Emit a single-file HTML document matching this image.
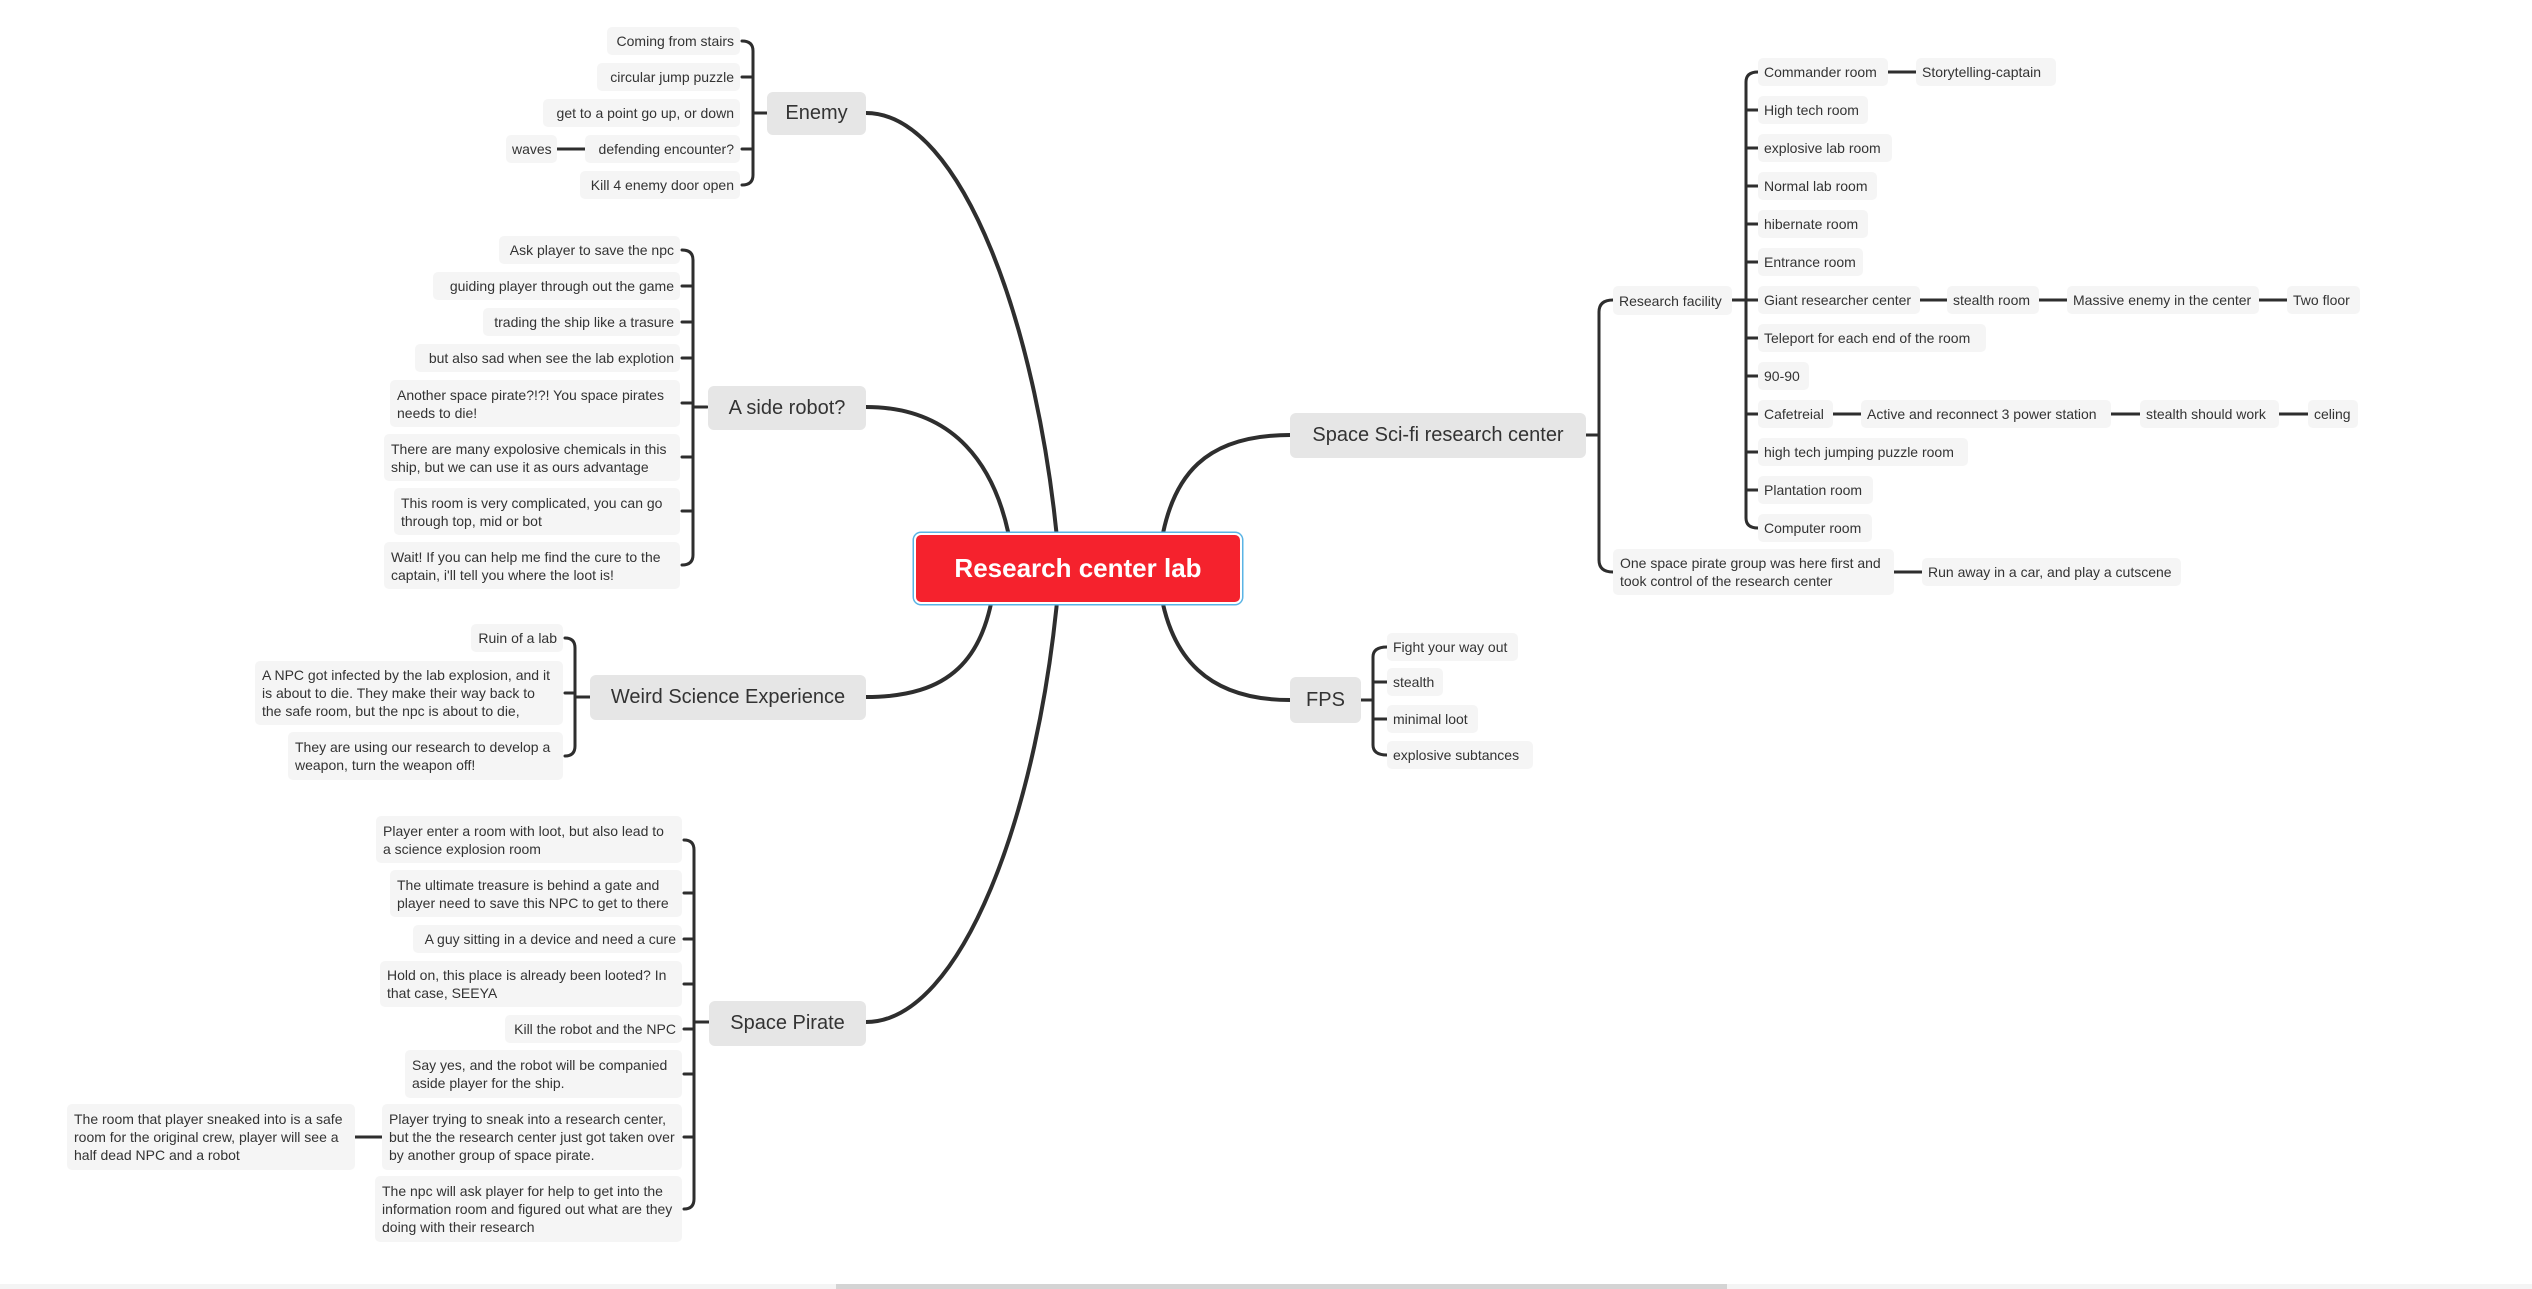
<!DOCTYPE html>
<html><head><meta charset="utf-8">
<style>
html,body{margin:0;padding:0;background:#fff;}
body{width:2532px;height:1289px;position:relative;overflow:hidden;font-family:"Liberation Sans",sans-serif;}
.n{position:absolute;background:#f5f5f5;border-radius:5px;font-size:14px;color:#333;padding:0 7px;line-height:18px;display:flex;align-items:center;box-sizing:border-box;white-space:normal;}
.n[style*="height:28px"],.n[style*="height:29px"]{white-space:nowrap;padding:0 6px;}
.r{justify-content:flex-end;text-align:left;}
.m{position:absolute;background:#e6e6e6;border-radius:6px;font-size:20px;color:#333;display:flex;align-items:center;justify-content:center;box-sizing:border-box;white-space:nowrap;}
.c{position:absolute;left:916px;top:535px;width:324px;height:67px;background:#f5222d;border-radius:5px;color:#fff;font-weight:bold;font-size:26px;display:flex;align-items:center;justify-content:center;box-shadow:0 0 0 2px #fff,0 0 0 3.5px #5ab4e5;}
svg{position:absolute;left:0;top:0;}
</style></head><body>
<svg width="2532" height="1289" fill="none" stroke="#2e2e2e" stroke-linecap="round">
<g stroke-width="4">
<path d="M866,113 C962,113 1040,330 1059,560"/>
<path d="M866,407 C950,407 1000,460 1013,560"/>
<path d="M866,697 C950,697 985,660 995,580"/>
<path d="M866,1022 C962,1022 1040,810 1059,580"/>
<path d="M1290,435 C1210,435 1168,470 1159,560"/>
<path d="M1290,700 C1210,700 1168,660 1159,580"/>
</g>
<g stroke-width="3">
<path d="M767,113 L753,113 M742,41 Q753,41 753,51 L753,175 Q753,185 742,185 M742,77 L753,77 M742,149 L753,149 M557,149 L585,149"/>
<path d="M707,407 L693,407 M682,250 Q693,250 693,260 L693,555 Q693,565 682,565 M682,286 L693,286 M682,322 L693,322 M682,358 L693,358 M682,403 L693,403 M682,457 L693,457 M682,511 L693,511"/>
<path d="M590,697 L575,697 M565,638 Q575,638 575,648 L575,746 Q575,756 565,756 M565,693 L575,693"/>
<path d="M709,1022 L694,1022 M684,840 Q694,840 694,850 L694,1199 Q694,1209 684,1209 M684,893 L694,893 M684,939 L694,939 M684,984 L694,984 M684,1029 L694,1029 M684,1074 L694,1074 M684,1137 L694,1137 M355,1137 L382,1137"/>
<path d="M1586,435 L1599,435 M1613,300 Q1599,300 1599,312 L1599,560 Q1599,572 1613,572 M1894,572 L1922,572"/>
<path d="M1732,300 L1758,300 M1758,72 Q1746,72 1746,82 L1746,518 Q1746,528 1758,528 M1746,110 L1758,110 M1746,148 L1758,148 M1746,186 L1758,186 M1746,224 L1758,224 M1746,262 L1758,262 M1746,338 L1758,338 M1746,376 L1758,376 M1746,414 L1758,414 M1746,452 L1758,452 M1746,490 L1758,490"/>
<path d="M1888,72 L1916,72 M1920,300 L1947,300 M2039,300 L2067,300 M2259,300 L2287,300 M1833,414 L1861,414 M2111,414 L2140,414 M2279,414 L2308,414"/>
<path d="M1361,700 L1373,700 M1387,647 Q1373,647 1373,657 L1373,745 Q1373,755 1387,755 M1373,682 L1387,682 M1373,719 L1387,719"/>
</g>
</svg>

<div class="c">Research center lab</div>

<div class="m" style="left:767px;top:92px;width:99px;height:43px;">Enemy</div>
<div class="m" style="left:708px;top:386px;width:158px;height:44px;">A side robot?</div>
<div class="m" style="left:590px;top:675px;width:276px;height:45px;">Weird Science Experience</div>
<div class="m" style="left:709px;top:1001px;width:157px;height:45px;">Space Pirate</div>
<div class="m" style="left:1290px;top:413px;width:296px;height:45px;">Space Sci-fi research center</div>
<div class="m" style="left:1290px;top:677px;width:71px;height:46px;">FPS</div>

<div class="n r" style="left:607px;top:27px;width:133px;height:28px;">Coming from stairs</div>
<div class="n r" style="left:597px;top:63px;width:143px;height:28px;">circular jump puzzle</div>
<div class="n r" style="left:543px;top:99px;width:197px;height:28px;">get to a point go up, or down</div>
<div class="n r" style="left:585px;top:135px;width:155px;height:28px;">defending encounter?</div>
<div class="n r" style="left:580px;top:171px;width:160px;height:28px;">Kill 4 enemy door open</div>
<div class="n" style="left:506px;top:135px;width:51px;height:28px;">waves</div>

<div class="n r" style="left:499px;top:236px;width:181px;height:28px;">Ask player to save the npc</div>
<div class="n r" style="left:433px;top:272px;width:247px;height:28px;">guiding player through out the game</div>
<div class="n r" style="left:483px;top:308px;width:197px;height:28px;">trading the ship like a trasure</div>
<div class="n r" style="left:415px;top:344px;width:265px;height:28px;">but also sad when see the lab explotion</div>
<div class="n" style="left:390px;top:380px;width:290px;height:47px;">Another space pirate?!?! You space pirates needs to die!</div>
<div class="n" style="left:384px;top:434px;width:296px;height:47px;">There are many expolosive chemicals in this ship, but we can use it as ours advantage</div>
<div class="n" style="left:394px;top:488px;width:286px;height:47px;">This room is very complicated, you can go through top, mid or bot</div>
<div class="n" style="left:384px;top:542px;width:296px;height:47px;">Wait! If you can help me find the cure to the captain, i'll tell you where the loot is!</div>

<div class="n r" style="left:471px;top:624px;width:92px;height:28px;">Ruin of a lab</div>
<div class="n" style="left:255px;top:661px;width:308px;height:64px;">A NPC got infected by the lab explosion, and it is about to die. They make their way back to the safe room, but the npc is about to die,</div>
<div class="n" style="left:288px;top:732px;width:275px;height:48px;">They are using our research to develop a weapon, turn the weapon off!</div>

<div class="n" style="left:376px;top:816px;width:306px;height:47px;">Player enter a room with loot, but also lead to a science explosion room</div>
<div class="n" style="left:390px;top:870px;width:292px;height:47px;">The ultimate treasure is behind a gate and player need to save this NPC to get to there</div>
<div class="n r" style="left:413px;top:925px;width:269px;height:28px;">A guy sitting in a device and need a cure</div>
<div class="n" style="left:380px;top:961px;width:302px;height:46px;">Hold on, this place is already been looted? In that case, SEEYA</div>
<div class="n r" style="left:505px;top:1015px;width:177px;height:28px;">Kill the robot and the NPC</div>
<div class="n" style="left:405px;top:1050px;width:277px;height:48px;">Say yes, and the robot will be companied aside player for the ship.</div>
<div class="n" style="left:382px;top:1104px;width:300px;height:66px;">Player trying to sneak into a research center, but the the research center just got taken over by another group of space pirate.</div>
<div class="n" style="left:375px;top:1176px;width:307px;height:66px;">The npc will ask player for help to get into the information room and figured out what are they doing with their research</div>
<div class="n" style="left:67px;top:1104px;width:288px;height:66px;">The room that player sneaked into is a safe room for the original crew, player will see a half dead NPC and a robot</div>

<div class="n" style="left:1613px;top:286px;width:119px;height:29px;">Research facility</div>
<div class="n" style="left:1613px;top:549px;width:281px;height:46px;">One space pirate group was here first and took control of the research center</div>
<div class="n" style="left:1922px;top:558px;width:259px;height:28px;">Run away in a car, and play a cutscene</div>

<div class="n" style="left:1758px;top:58px;width:130px;height:28px;">Commander room</div>
<div class="n" style="left:1916px;top:58px;width:140px;height:28px;">Storytelling-captain</div>
<div class="n" style="left:1758px;top:96px;width:110px;height:28px;">High tech room</div>
<div class="n" style="left:1758px;top:134px;width:134px;height:28px;">explosive lab room</div>
<div class="n" style="left:1758px;top:172px;width:119px;height:28px;">Normal lab room</div>
<div class="n" style="left:1758px;top:210px;width:110px;height:28px;">hibernate room</div>
<div class="n" style="left:1758px;top:248px;width:105px;height:28px;">Entrance room</div>
<div class="n" style="left:1758px;top:286px;width:162px;height:28px;">Giant researcher center</div>
<div class="n" style="left:1947px;top:286px;width:92px;height:28px;">stealth room</div>
<div class="n" style="left:2067px;top:286px;width:192px;height:28px;">Massive enemy in the center</div>
<div class="n" style="left:2287px;top:286px;width:73px;height:28px;">Two floor</div>
<div class="n" style="left:1758px;top:324px;width:228px;height:28px;">Teleport for each end of the room</div>
<div class="n" style="left:1758px;top:362px;width:51px;height:28px;">90-90</div>
<div class="n" style="left:1758px;top:400px;width:75px;height:28px;">Cafetreial</div>
<div class="n" style="left:1861px;top:400px;width:250px;height:28px;">Active and reconnect 3 power station</div>
<div class="n" style="left:2140px;top:400px;width:139px;height:28px;">stealth should work</div>
<div class="n" style="left:2308px;top:400px;width:50px;height:28px;">celing</div>
<div class="n" style="left:1758px;top:438px;width:210px;height:28px;">high tech jumping puzzle room</div>
<div class="n" style="left:1758px;top:476px;width:115px;height:28px;">Plantation room</div>
<div class="n" style="left:1758px;top:514px;width:114px;height:28px;">Computer room</div>

<div class="n" style="left:1387px;top:633px;width:131px;height:28px;">Fight your way out</div>
<div class="n" style="left:1387px;top:668px;width:56px;height:28px;">stealth</div>
<div class="n" style="left:1387px;top:705px;width:91px;height:28px;">minimal loot</div>
<div class="n" style="left:1387px;top:741px;width:146px;height:28px;">explosive subtances</div>

<div style="position:absolute;left:0;top:1284px;width:2532px;height:5px;background:#f4f4f4;"></div>
<div style="position:absolute;left:836px;top:1284px;width:891px;height:5px;background:#d4d4d4;"></div>
</body></html>
